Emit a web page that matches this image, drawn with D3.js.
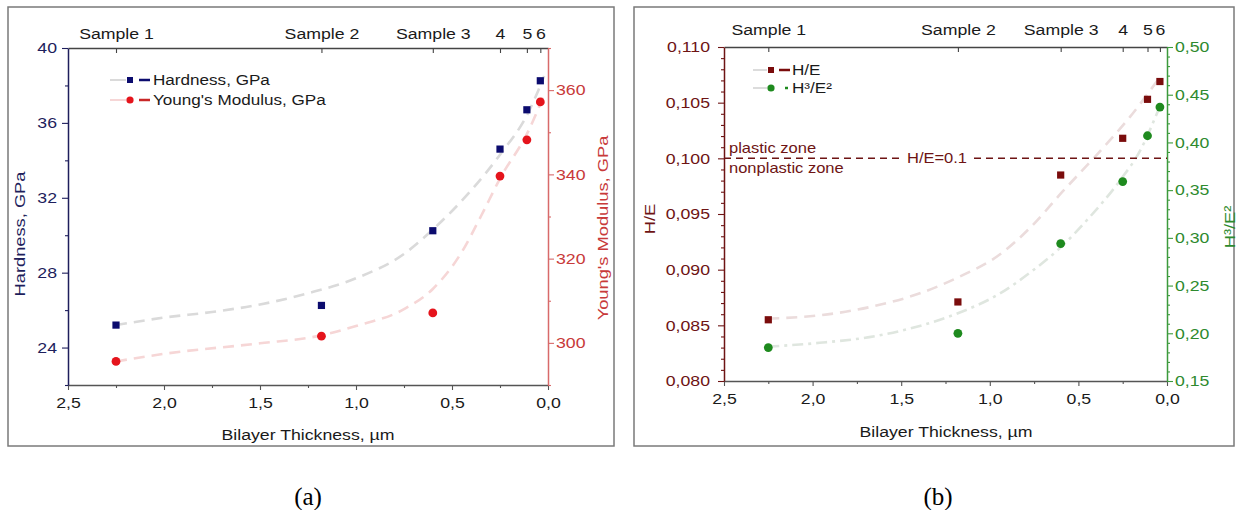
<!DOCTYPE html>
<html>
<head>
<meta charset="utf-8">
<script src="https://cdn.jsdelivr.net/npm/d3@7"></script>
<style>
  body { margin: 0; background: #fff; }
  svg text { font-family: "Liberation Sans", Arial, sans-serif; }
  svg text.caption { font-family: "Liberation Serif", "Times New Roman", serif; }
</style>
</head>
<body>
<div id="chart"></div>
<script>
// ---- data ----
const sampleLabels = ["Sample 1", "Sample 2", "Sample 3", "4", "5", "6"];
const thickness = [2.25, 1.18, 0.60, 0.25, 0.11, 0.04];

// panel (a)
const hardness = [25.2, 26.25, 30.24, 34.6, 36.7, 38.25];
const modulus = [295.6, 301.6, 307.1, 339.6, 348.2, 357.2];
const hardFitT = [2.25, 2.0, 1.75, 1.5, 1.25, 1.0, 0.75, 0.6, 0.4, 0.25, 0.1, 0.02];
const hardFitV = [25.2, 25.6, 25.9, 26.3, 26.9, 27.7, 29.0, 30.3, 32.4, 34.3, 36.6, 38.5];
const modFitT = [2.25, 2.0, 1.5, 1.2, 1.0, 0.75, 0.6, 0.45, 0.35, 0.25, 0.1, 0.02];
const modFitV = [295.6, 297.4, 299.9, 301.6, 304.0, 308.0, 312.8, 321.5, 330.0, 339.0, 350.5, 359.0];

// panel (b)
const hOverE = [0.0855, 0.0871, 0.0985, 0.1018, 0.1053, 0.1069];
const h3OverE2 = [0.185, 0.200, 0.294, 0.359, 0.407, 0.437];
const heFitT = [2.25, 1.96, 1.66, 1.39, 1.18, 0.94, 0.77, 0.59, 0.38, 0.21, 0.04];
const heFitV = [0.0856, 0.0859, 0.0867, 0.0879, 0.0893, 0.0914, 0.0938, 0.0970, 0.1006, 0.1037, 0.1073];
const h3FitT = [2.25, 1.96, 1.68, 1.39, 1.18, 0.94, 0.77, 0.60, 0.44, 0.27, 0.15, 0.04];
const h3FitV = [0.186, 0.190, 0.196, 0.208, 0.221, 0.242, 0.264, 0.290, 0.321, 0.359, 0.392, 0.438];
const plasticLimit = 0.1;

// tick labels
const thickTicks = [2.5, 2.0, 1.5, 1.0, 0.5, 0.0];
const hardTicks = [24, 28, 32, 36, 40];
const modTicks = [300, 320, 340, 360];
const heTicks = [0.080, 0.085, 0.090, 0.095, 0.100, 0.105, 0.110];
const h3Ticks = [0.15, 0.20, 0.25, 0.30, 0.35, 0.40, 0.45, 0.50];

// ---- setup ----
const SX = 1.18; // the source picture is stretched sideways a bit
const locale = d3.formatLocale({decimal: ",", thousands: ".", grouping: [3], currency: ["", ""]});

const svg = d3.select("#chart").append("svg")
    .attr("width", 1244)
    .attr("height", 510);

function label(g, x, y, str, o = {}) {
  return g.append("text")
    .attr("transform", `translate(${x},${y})${o.rotate ? " rotate(-90)" : ""} scale(${SX},1)`)
    .attr("text-anchor", o.anchor || "middle")
    .attr("font-size", o.size || 15)
    .attr("fill", o.color || "#1a1a1a")
    .text(str);
}

// stretch axis labels the same way
function stretch(axisG, color, size) {
  axisG.selectAll("text").each(function() {
    const t = d3.select(this);
    const x = +t.attr("x") || 0;
    t.attr("x", x / SX).attr("transform", `scale(${SX},1)`)
      .attr("fill", color).attr("font-size", size || 15);
  });
}

function styleAxis(axisG, color, width) {
  axisG.select(".domain").attr("stroke", color).attr("stroke-width", width || 1.3);
  axisG.selectAll(".tick line").attr("stroke", color).attr("stroke-width", 1.1);
}

function minors(lo, hi, step, skip) {
  return d3.range(Math.round((hi - lo) / step) + 1).map(i => +(lo + i * step).toFixed(4))
    .filter(v => !skip.some(s => Math.abs(s - v) < step / 10));
}

function panelBox(x0, x1) {
  svg.append("rect")
    .attr("x", x0).attr("y", 7)
    .attr("width", x1 - x0).attr("height", 439)
    .attr("fill", "none")
    .attr("stroke", "#7a7a7a")
    .attr("stroke-width", 1.5);
}

// common x axes (bottom thickness + top sample ticks)
function thicknessAxes(g, x, top, bottom, topPad) {
  const fmt = locale.format(".1f");
  const bMinor = g.append("g").attr("transform", `translate(0,${bottom})`)
    .call(d3.axisBottom(x).tickValues(minors(0, 2.5, 0.25, thickTicks)).tickSize(3).tickFormat(""));
  bMinor.select(".domain").remove();
  styleAxis(bMinor, "#555");
  const b = g.append("g").attr("transform", `translate(0,${bottom})`)
    .call(d3.axisBottom(x).tickValues(thickTicks).tickSize(5).tickSizeOuter(0).tickPadding(7).tickFormat(fmt));
  styleAxis(b, "#555");
  stretch(b, "#1a1a1a");

  const t = g.append("g").attr("transform", `translate(0,${top})`)
    .call(d3.axisTop(x).tickValues(thickness).tickSize(-5).tickSizeOuter(0).tickPadding(topPad)
      .tickFormat((d, i) => sampleLabels[i]));
  styleAxis(t, "#444");
  stretch(t, "#1a1a1a");
  t.selectAll("text").attr("dy", "0");
}

function yAxis(g, scale, side, pos, ticks, fmt, minorVals, color, lineColor, pad) {
  const make = side === "left" ? d3.axisLeft : d3.axisRight;
  const m = g.append("g").attr("transform", `translate(${pos},0)`)
    .call(make(scale).tickValues(minorVals).tickSize(3).tickFormat(""));
  m.select(".domain").remove();
  styleAxis(m, lineColor);
  const a = g.append("g").attr("transform", `translate(${pos},0)`)
    .call(make(scale).tickValues(ticks).tickSize(6).tickSizeOuter(0).tickPadding(pad).tickFormat(fmt));
  styleAxis(a, lineColor, 1.5);
  stretch(a, color);
}

function fitLine(g, clipId, x, y, ts, vs, color, dash) {
  g.append("path")
    .datum(ts.map((t, i) => [t, vs[i]]))
    .attr("clip-path", `url(#${clipId})`)
    .attr("fill", "none")
    .attr("stroke", color)
    .attr("stroke-width", 2.6)
    .attr("stroke-dasharray", dash)
    .attr("d", d3.line().x(d => x(d[0])).y(d => y(d[1])).curve(d3.curveMonotoneX));
}

const defs = svg.append("defs");

// ================= panel (a) =================
panelBox(8, 614);
const ga = svg.append("g");
const xa = d3.scaleLinear().domain([2.5, 0]).range([68, 548]);
const yH = d3.scaleLinear().domain([22, 40]).range([385, 48]);
const yE = d3.scaleLinear().domain([290, 370]).range([385, 48]);

defs.append("clipPath").attr("id", "clipA").append("rect")
  .attr("x", 68).attr("y", 48).attr("width", 480).attr("height", 337);

fitLine(ga, "clipA", xa, yH, hardFitT, hardFitV, "#dadada", "11 7");
fitLine(ga, "clipA", xa, yE, modFitT, modFitV, "#f6d6d6", "11 7");

thicknessAxes(ga, xa, 48, 385, 9);
yAxis(ga, yH, "left", 68, hardTicks, d3.format("d"), minors(22, 40, 2, hardTicks), "#1e1e5c", "#1e1e5c", 5);
yAxis(ga, yE, "right", 548, modTicks, d3.format("d"), minors(290, 370, 10, modTicks), "#c83a3a", "#d86a6a", 2);

ga.selectAll("rect.hard")
  .data(thickness)
  .enter()
  .append("rect")
  .attr("class", "hard")
  .attr("x", (d, i) => xa(d) - 3.6)
  .attr("y", (d, i) => yH(hardness[i]) - 3.6)
  .attr("width", 7.2).attr("height", 7.2)
  .attr("fill", "#0b0b6e");

ga.selectAll("circle.mod")
  .data(thickness)
  .enter()
  .append("circle")
  .attr("class", "mod")
  .attr("cx", d => xa(d))
  .attr("cy", (d, i) => yE(modulus[i]))
  .attr("r", 4.4)
  .attr("fill", "#e5141c");

// legend (a)
const la = ga.append("g");
la.append("line").attr("x1", 110).attr("x2", 126).attr("y1", 80).attr("y2", 80).attr("stroke", "#dadada").attr("stroke-width", 2);
la.append("rect").attr("x", 127).attr("y", 77).attr("width", 6).attr("height", 6).attr("fill", "#0b0b6e");
la.append("line").attr("x1", 139).attr("x2", 150).attr("y1", 80).attr("y2", 80).attr("stroke", "#0b0b6e").attr("stroke-width", 2.5);
label(la, 153, 85, "Hardness, GPa", {anchor: "start", size: 14.5});
la.append("line").attr("x1", 110).attr("x2", 126).attr("y1", 100).attr("y2", 100).attr("stroke", "#f6d6d6").attr("stroke-width", 2);
la.append("circle").attr("cx", 130).attr("cy", 100).attr("r", 3.6).attr("fill", "#e5141c");
la.append("line").attr("x1", 139).attr("x2", 150).attr("y1", 100).attr("y2", 100).attr("stroke", "#c82828").attr("stroke-width", 2.5);
label(la, 153, 105, "Young's Modulus, GPa", {anchor: "start", size: 14.5});

// axis titles (a)
label(ga, 25, 234, "Hardness, GPa", {rotate: true, size: 15.5, color: "#1e1e5c"});
label(ga, 608, 228, "Young's Modulus, GPa", {rotate: true, size: 15.5, color: "#c83a3a"});
label(ga, 308, 440, "Bilayer Thickness, \u00b5m", {size: 15});

// ================= panel (b) =================
panelBox(634, 1234);
const gb = svg.append("g");
const xb = d3.scaleLinear().domain([2.5, 0]).range([724, 1167]);
const yR = d3.scaleLinear().domain([0.08, 0.11]).range([381, 47]);
const yG = d3.scaleLinear().domain([0.15, 0.5]).range([381, 47]);

defs.append("clipPath").attr("id", "clipB").append("rect")
  .attr("x", 724).attr("y", 47).attr("width", 443).attr("height", 334);

fitLine(gb, "clipB", xb, yR, heFitT, heFitV, "#ebdcdc", "11 7");
fitLine(gb, "clipB", xb, yG, h3FitT, h3FitV, "#dfe6df", "11 5 3 5");

thicknessAxes(gb, xb, 47, 381, 12);
yAxis(gb, yR, "left", 724, heTicks, locale.format(".3f"), minors(0.08, 0.11, 0.001, heTicks), "#6e1414", "#6e1414", 8);
yAxis(gb, yG, "right", 1167, h3Ticks, locale.format(".2f"), minors(0.15, 0.5, 0.01, h3Ticks), "#2e8a2e", "#3c9a3c", 2);

// H/E = 0.1 limit line, broken for its label
const yLim = yR(plasticLimit);
gb.append("line").attr("x1", 724).attr("x2", 902).attr("y1", yLim).attr("y2", yLim)
  .attr("stroke", "#6e1414").attr("stroke-width", 1.5).attr("stroke-dasharray", "7 5");
gb.append("line").attr("x1", 974).attr("x2", 1167).attr("y1", yLim).attr("y2", yLim)
  .attr("stroke", "#6e1414").attr("stroke-width", 1.5).attr("stroke-dasharray", "7 5");
label(gb, 937, yLim + 5, "H/E=0.1", {size: 14, color: "#6e1414"});
label(gb, 729, yLim - 5, "plastic zone", {anchor: "start", size: 14, color: "#6e1414"});
label(gb, 729, yLim + 15, "nonplastic zone", {anchor: "start", size: 14, color: "#6e1414"});

gb.selectAll("rect.he")
  .data(thickness)
  .enter()
  .append("rect")
  .attr("class", "he")
  .attr("x", d => xb(d) - 3.6)
  .attr("y", (d, i) => yR(hOverE[i]) - 3.6)
  .attr("width", 7.2).attr("height", 7.2)
  .attr("fill", "#7a0c0c");

gb.selectAll("circle.h3")
  .data(thickness)
  .enter()
  .append("circle")
  .attr("class", "h3")
  .attr("cx", d => xb(d))
  .attr("cy", (d, i) => yG(h3OverE2[i]))
  .attr("r", 4.4)
  .attr("fill", "#1e8a1e");

// legend (b)
const lb = gb.append("g");
lb.append("line").attr("x1", 753).attr("x2", 767).attr("y1", 70).attr("y2", 70).attr("stroke", "#dcdcdc").attr("stroke-width", 2);
lb.append("rect").attr("x", 768).attr("y", 67).attr("width", 6).attr("height", 6).attr("fill", "#7a0c0c");
lb.append("line").attr("x1", 779).attr("x2", 790).attr("y1", 70).attr("y2", 70).attr("stroke", "#7a0c0c").attr("stroke-width", 2.5);
label(lb, 792, 75, "H/E", {anchor: "start", size: 14.5});
lb.append("line").attr("x1", 753).attr("x2", 767).attr("y1", 88).attr("y2", 88).attr("stroke", "#dcdcdc").attr("stroke-width", 2);
lb.append("circle").attr("cx", 771).attr("cy", 88).attr("r", 3.6).attr("fill", "#1e8a1e");
lb.append("line").attr("x1", 785).attr("x2", 788).attr("y1", 88).attr("y2", 88).attr("stroke", "#1e8a1e").attr("stroke-width", 2.5);
label(lb, 792, 93, "H\u00b3/E\u00b2", {anchor: "start", size: 14.5});

// axis titles (b)
label(gb, 655, 219, "H/E", {rotate: true, size: 15.5, color: "#6e1414"});
label(gb, 1235, 227, "H\u00b3/E\u00b2", {rotate: true, size: 15.5, color: "#2e8a2e"});
label(gb, 946, 437, "Bilayer Thickness, \u00b5m", {size: 15});

// captions
svg.append("text").attr("class", "caption").attr("x", 308).attr("y", 505)
  .attr("text-anchor", "middle").attr("font-size", 25).text("(a)");
svg.append("text").attr("class", "caption").attr("x", 938).attr("y", 505)
  .attr("text-anchor", "middle").attr("font-size", 25).text("(b)");
</script>
</body>
</html>
